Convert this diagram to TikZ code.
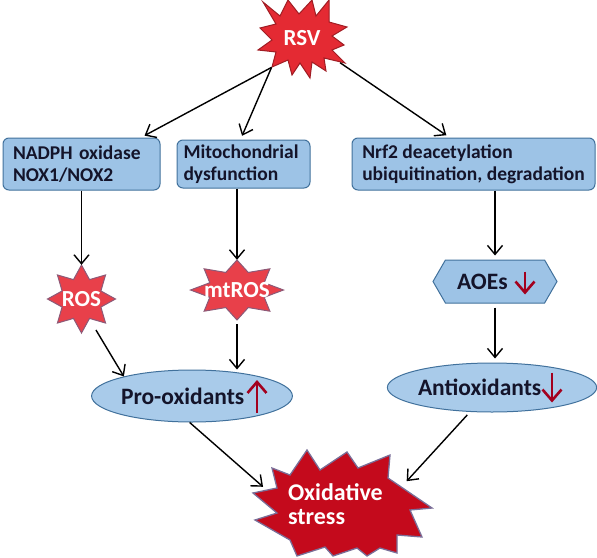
\documentclass[tikz,border=0pt]{standalone}
\usepackage{fontspec}
\setmainfont{Carlito}
\usetikzlibrary{arrows.meta,shapes.geometric,shapes.symbols,backgrounds,calc}

\definecolor{boxblue}{HTML}{9DC3E6}
\definecolor{boxline}{HTML}{41719C}
\definecolor{ovalblue}{HTML}{A9CBEA}
\definecolor{starred}{HTML}{E8404A}
\definecolor{starline}{HTML}{8C5A78}
\definecolor{rsvred}{HTML}{E42A33}
\definecolor{oxred}{HTML}{C40A1C}
\definecolor{oxline}{HTML}{7A6E98}
\definecolor{arrowred}{HTML}{A3001E}
\definecolor{darktext}{HTML}{14142A}

\begin{document}
\begin{tikzpicture}[x=1pt,y=-1pt,
  box/.style={draw=boxline, fill=boxblue, rounded corners=6pt, line width=1pt, align=left,
    font=\fontsize{19.5}{22}\selectfont\bfseries, text=darktext, inner ysep=0pt},
  oval/.style={ellipse, draw=boxline, fill=ovalblue, line width=1pt,
    font=\fontsize{23.5}{24}\selectfont\bfseries, text=darktext, inner sep=0pt},
  hexa/.style={signal, signal to=west and east, signal pointer angle=120, draw=boxline,
    fill=boxblue, line width=1pt, font=\fontsize{23.5}{24}\selectfont\bfseries, text=darktext, inner sep=0pt},
  startext/.style={font=\fontsize{23}{23}\selectfont\bfseries, text=white, inner sep=0pt},
  arr/.style={-{Straight Barb[length=9pt,width=15pt]}, line width=1.4pt},
  updown/.style={-{Straight Barb[length=11pt,width=19pt]}, line width=2.6pt, arrowred},
  redstar/.style={fill=starred, draw=starline, line width=1pt},
]
\useasboundingbox (0,0) rectangle (597,557);

% top
\node[startext, ellipse, minimum width=104pt, minimum height=72pt] (rsv) at (302,38) {RSV};

% boxes
\node[box, minimum height=52pt, text width=137pt, inner xsep=10pt] (nadph) at (81.5,164) {NADPH oxidase\\NOX1/NOX2};
\node[box, minimum height=48pt, text width=120pt, inner xsep=6.5pt] (mito) at (243.5,164) {Mitochondrial\\dysfunction};
\node[box, minimum height=52pt, minimum width=243pt, inner xsep=0pt] (nrf) at (473.5,164) {Nrf2 deacetylation\\ubiquitination, degradation};

% middle
\node[startext, circle, minimum size=68pt] (ros) at (81.5,299) {ROS};
\node[startext, ellipse, minimum width=93pt, minimum height=60pt] (mtros) at (237,290) {mtROS};
\node[hexa, minimum width=124pt, minimum height=43pt] (aoe) at (495,281.5) {\makebox[76pt][l]{AOEs}};

\node[oval, minimum width=200pt, minimum height=52pt] (pro) at (192,396) {\makebox[142pt][l]{Pro-oxidants}};
\node[oval, minimum width=182pt, minimum height=49pt] (anti) at (492,387.5) {\makebox[148pt][l]{Antioxidants}};

% bottom
\node[startext, ellipse, minimum width=200pt, minimum height=52pt, align=left, text width=112pt,
  font=\fontsize{24}{24}\selectfont\bfseries] (ox) at (344,504) {Oxidative\\stress};

% shapes behind the texts
\begin{scope}[on background layer]
\draw[fill=rsvred, draw=rsvred!70!black, line width=1pt, shift={(rsv.center)}]
  (-39,-36) -- (-22,-22) -- (-14,-38) -- (-3,-24) -- (10,-38) -- (14,-22) -- (27,-38) -- (27,-16)
  -- (45,-11) -- (30,-2) -- (42,7) -- (30,12) -- (43,25) -- (22,20) -- (24,33) -- (10,24)
  -- (8,40) -- (-2,25) -- (-10,37) -- (-14,22) -- (-30,29) -- (-26,14) -- (-44,12) -- (-30,2)
  -- (-42,-10) -- (-26,-14) -- cycle;
\draw[redstar, shift={(ros.center)}] plot[samples at={0,...,15}] (\x*22.5+90:{21+13*mod(\x+1,2)}) -- cycle;
\draw[redstar, shift={(mtros.center)}, xscale=1.55] plot[samples at={0,...,15}] (\x*22.5+90:{19+11*mod(\x+1,2)}) -- cycle;
\draw[fill=oxred, draw=oxline, line width=1.3pt, shift={(344,502)}]
  (-72,-34) -- (-54,-27) -- (-37,-52) -- (-24,-32) -- (3,-50) -- (14,-34) -- (46,-47) -- (44,-24)
  -- (88,6) -- (66,8) -- (78,35) -- (53,33) -- (53,51) -- (36,46) -- (23,54) -- (13,46)
  -- (-11,54) -- (-19,45) -- (-47,54) -- (-54,38) -- (-89,18) -- (-67,11) -- (-91,-9) -- (-67,-14)
  -- cycle;
\end{scope}

% connectors
\draw[arr, shorten >=4pt] (rsv.-136) -- (nadph.24);
\draw[arr, shorten >=4pt] (rsv.-136) -- (mito.97);
\draw[arr, shorten >=4pt] (rsv.-33) -- (nrf.132);
\draw[arr] (nadph.south) -- (ros.north);
\draw[arr] (mito.south -| mtros.north) -- (mtros.north);
\draw[arr, shorten >=4pt] (nrf.south -| aoe.north) -- (aoe.north);
\draw[arr] (ros.-65) -- (pro.164);
\draw[arr, shorten <=4pt] (mtros.south) -- (mtros.south |- pro.north);
\draw[arr, shorten <=4pt, shorten >=4pt] (aoe.south) -- (aoe.south |- anti.north);
\draw[arr] (pro.-95) -- (ox.168);
\draw[arr, shorten <=4pt] (anti.-132) -- (ox.20);

% up and down marks
\draw[updown] ($(pro.center)+(65,17)$) -- ++(0,-33);
\draw[updown] ($(aoe.center)+(30,-10)$) -- ++(0,23);
\draw[updown] ($(anti.center)+(60,-15)$) -- ++(0,30);
\end{tikzpicture}
\end{document}
